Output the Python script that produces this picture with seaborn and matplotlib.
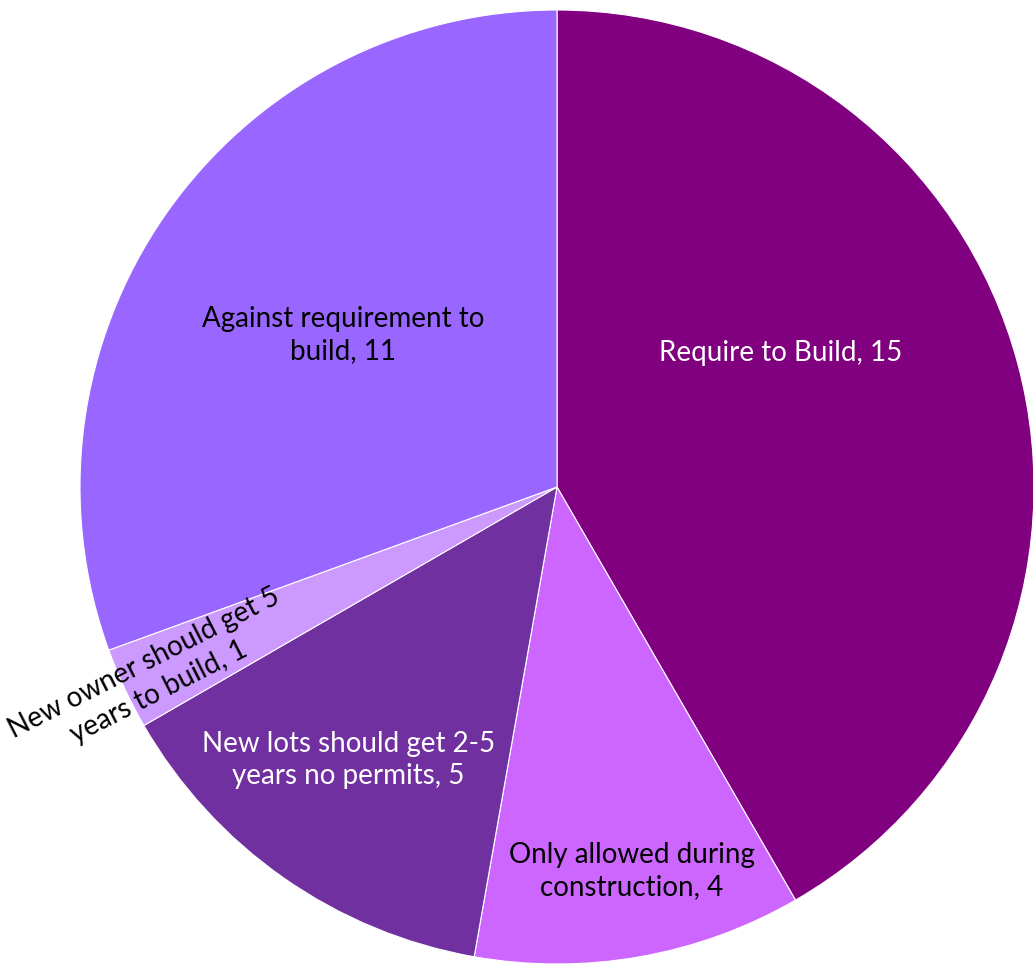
import numpy as np
import matplotlib
matplotlib.use("Agg")
import matplotlib.pyplot as plt
import seaborn as sns

categories = [
    "Require to Build",
    "Only allowed during\nconstruction",
    "New lots should get 2-5\nyears no permits",
    "New owner should get 5\nyears to build",
    "Against requirement to\nbuild",
]
counts = [15, 4, 5, 1, 11]
colors = ["#800080", "#CC66FF", "#7030A0", "#CC99FF", "#9966FF"]
label_colors = ["white", "black", "white", "black", "black"]

# label placement per slice: (radial distance, angular shift in degrees, rotation)
label_layout = [
    (0.546, 16.0, 0),
    (0.82, 1.0, 0),
    (0.72, -2.4, 0),
    (0.94, 0.2, 27),
    (0.551, -0.4, 0),
]

sns.set_theme(style="white")
plt.rcParams["font.family"] = ["Lato", "DejaVu Sans"]

fig = plt.figure(figsize=(10.33, 9.65), dpi=100)
ax = fig.add_axes([0, 0, 1, 1])

wedges, _ = ax.pie(
    counts,
    colors=colors,
    startangle=90,
    counterclock=False,
    radius=1.0,
    wedgeprops=dict(linewidth=0.8, edgecolor="white"),
)

for w, cat, n, lc, (dist, shift, rot) in zip(wedges, categories, counts, label_colors, label_layout):
    mid = np.deg2rad((w.theta1 + w.theta2) / 2 + shift)
    x, y = dist * np.cos(mid), dist * np.sin(mid)
    ax.text(x, y, f"{cat}, {n}", ha="center", va="center", color=lc,
            fontsize=20, rotation=rot, rotation_mode="anchor", linespacing=1.3)

scale = 477.0
ax.set_xlim(-557 / scale, (1033 - 557) / scale)
ax.set_ylim(-(965 - 487) / scale, 487 / scale)
ax.set_aspect("auto")
ax.axis("off")

fig.savefig("out.png", dpi=100, facecolor="white")
